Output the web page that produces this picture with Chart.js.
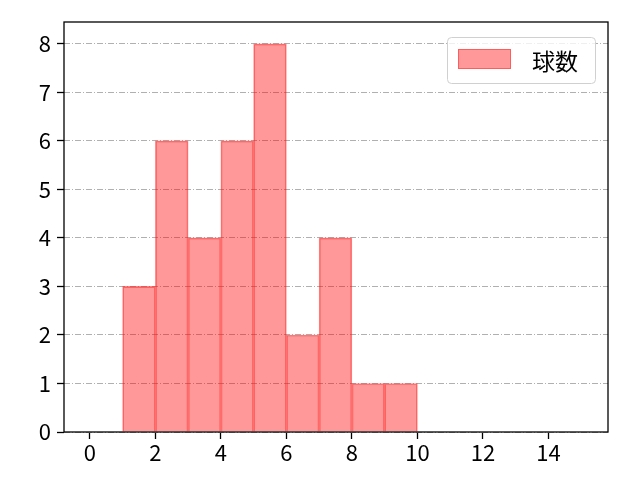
<!DOCTYPE html>
<html>
<head>
<meta charset="utf-8">
<script src="https://cdn.jsdelivr.net/npm/chart.js@4"></script>
<style>
  html, body { margin: 0; padding: 0; background: #fff; }
  #wrap { width: 640px; height: 480px; }
</style>
</head>
<body>
<div id="wrap"><canvas id="histChart" width="640" height="480"></canvas></div>
<script>
// 球数 ヒストグラム
const binStarts = [1, 2, 3, 4, 5, 6, 7, 8, 9];
const counts = [3, 6, 4, 6, 8, 2, 4, 1, 1];
const xTicks = [0, 2, 4, 6, 8, 10, 12, 14];
const yTicks = [0, 1, 2, 3, 4, 5, 6, 7, 8];
const seriesLabel = "球数";

const FONT = "'Noto Sans CJK JP', 'DejaVu Sans', sans-serif";

// 枠線
const framePlugin = {
  id: "frame",
  afterDatasetsDraw(chart) {
    const { ctx, chartArea: a } = chart;
    ctx.save();
    ctx.strokeStyle = "#000";
    ctx.lineWidth = 1.3;
    ctx.strokeRect(a.left, a.top, a.right - a.left, a.bottom - a.top);
    ctx.restore();
  },
};

// 凡例 (右上)
const legendPlugin = {
  id: "boxLegend",
  afterDraw(chart) {
    const { ctx, chartArea: a } = chart;
    const x = a.right - 161, y = a.top + 15, w = 148, h = 46;
    ctx.save();
    ctx.fillStyle = "rgba(255,255,255,0.8)";
    ctx.strokeStyle = "#d0d0d0";
    ctx.lineWidth = 1;
    ctx.beginPath();
    ctx.roundRect(x + 0.5, y + 0.5, w, h, 4);
    ctx.fill();
    ctx.stroke();
    ctx.fillStyle = "rgba(255,0,0,0.4)";
    ctx.strokeStyle = "rgba(255,0,0,0.4)";
    ctx.fillRect(x + 11, y + 12, 53, 20);
    ctx.strokeRect(x + 11.5, y + 12.5, 52, 19);
    ctx.fillStyle = "#000";
    ctx.font = "23px " + FONT;
    ctx.textBaseline = "middle";
    ctx.fillText(chart.data.datasets[0].label, x + 85, y + 24);
    ctx.restore();
  },
};

const ctx = document.getElementById("histChart").getContext("2d");
const histChart = new Chart(ctx, {
  type: "bar",
  data: {
    datasets: [
      {
        label: seriesLabel,
        data: binStarts.map((s, i) => ({ x: s + 0.5, y: counts[i] })),
        backgroundColor: "rgba(255,0,0,0.4)",
        borderColor: "rgba(255,30,30,0.55)",
        borderWidth: 1,
        borderSkipped: "bottom",
        barPercentage: 1,
        categoryPercentage: 1,
      },
    ],
  },
  options: {
    responsive: false,
    animation: false,
    layout: { padding: { top: 22, right: 32, left: 0, bottom: 0 } },
    plugins: {
      legend: { display: false },
      tooltip: { enabled: false },
    },
    scales: {
      x: {
        type: "linear",
        min: -0.79,
        max: 15.82,
        offset: false,
        afterBuildTicks: (s) => { s.ticks = xTicks.map((v) => ({ value: v })); },
        afterFit: (s) => { s.height = 48; },
        grid: { offset: false, drawOnChartArea: false, tickLength: 7, tickColor: "#000", tickWidth: 1.3 },
        border: { display: false },
        ticks: { color: "#000", font: { family: FONT, size: 22 }, padding: 0, maxRotation: 0 },
      },
      y: {
        min: 0,
        max: 8.45,
        afterBuildTicks: (s) => { s.ticks = yTicks.map((v) => ({ value: v })); },
        afterFit: (s) => { s.width = 64; },
        grid: { offset: false, color: "#b0b0b0", lineWidth: 1, tickLength: 7, tickColor: "#000", tickWidth: 1.3, tickBorderDash: [] },
        border: { display: false, dash: [6, 2, 1, 2] },
        ticks: { color: "#000", font: { family: FONT, size: 22 }, padding: 6 },
      },
    },
  },
  plugins: [framePlugin, legendPlugin],
});
</script>
</body>
</html>
